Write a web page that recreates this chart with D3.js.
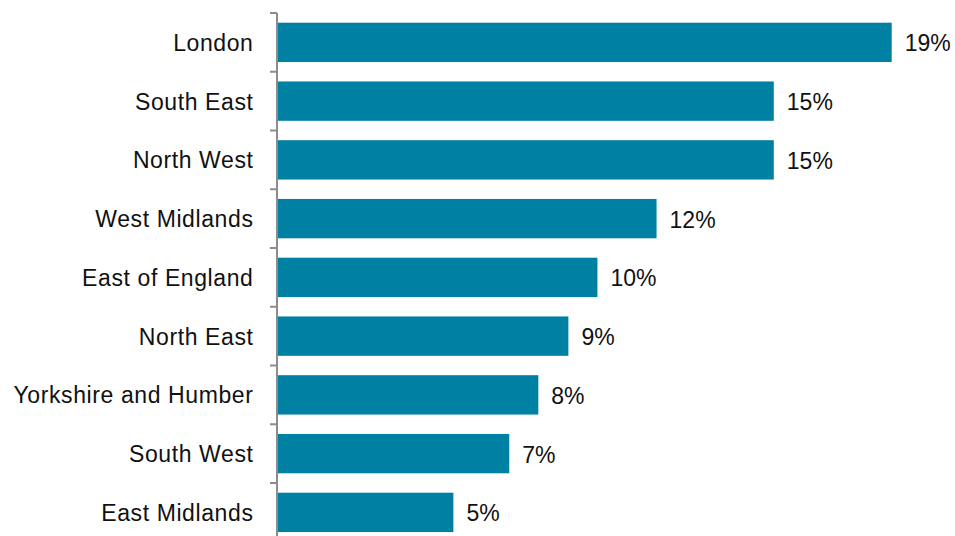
<!DOCTYPE html>
<html><head><meta charset="utf-8">
<script src="https://cdn.jsdelivr.net/npm/d3@7"></script>
<style>html,body{margin:0;padding:0;background:#fff;}svg{display:block;}</style>
</head><body>
<script>
const categories = ["London","South East","North West","West Midlands","East of England","North East","Yorkshire and Humber","South West","East Midlands"];
const values = [19.0, 15.35, 15.35, 11.72, 9.89, 8.99, 8.06, 7.16, 5.43];

const W = 955, H = 536;
const FONT = "'Liberation Sans', Arial, sans-serif";
const svg = d3.select("body").append("svg").attr("width", W).attr("height", H);
const x0 = 277;
const x = d3.scaleLinear().domain([0, 20]).range([x0, x0 + 646]);
const y = d3.scaleBand().domain(categories).range([13, 541.75]).paddingInner(0.33).paddingOuter(0.165);

svg.selectAll("rect.bar").data(categories).join("rect")
  .attr("class","bar")
  .attr("x", x(0) + 1)
  .attr("y", d => y(d))
  .attr("width", (d,i) => x(values[i]) - x(0))
  .attr("height", y.bandwidth())
  .attr("fill", "#0081a3");

svg.selectAll("text.val").data(categories).join("text")
  .attr("class","val")
  .attr("x", (d,i) => x(values[i]) + 14)
  .attr("y", d => y(d) + y.bandwidth()/2 + 1)
  .attr("dy", "0.35em")
  .attr("font-family", FONT)
  .attr("font-size", 23)
  .attr("fill", "#111")
  .text((d,i) => Math.round(values[i]) + "%");

const yAxis = d3.axisLeft(y).tickSize(0).tickPadding(23.5);
const g = svg.append("g").attr("transform", `translate(${x0},1)`).call(yAxis);
g.select(".domain").remove();
g.selectAll("text").attr("font-family", FONT).attr("font-size",23).attr("fill","#111")
  .attr("letter-spacing", "0.6px");

// axis line and boundary ticks
svg.append("line").attr("x1", x0).attr("x2", x0).attr("y1", 13).attr("y2", H)
  .attr("stroke","#8c8c8c").attr("stroke-width",2);
const step = y.step();
const bounds = d3.range(categories.length + 1).map(i => 13 + i * step);
svg.selectAll("line.tk").data(bounds).join("line").attr("class","tk")
  .attr("x1", x0 - 7).attr("x2", x0).attr("y1", d => d).attr("y2", d => d)
  .attr("stroke","#8c8c8c").attr("stroke-width",2);
</script>
</body></html>
